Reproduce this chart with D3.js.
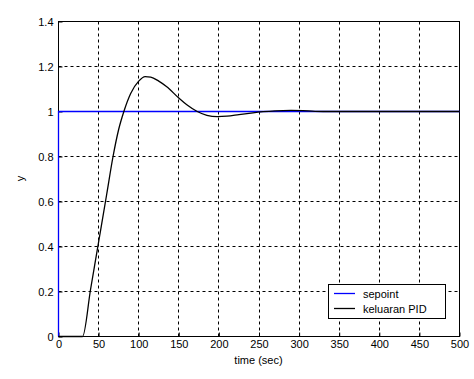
<!DOCTYPE html>
<html>
<head>
<meta charset="utf-8">
<script src="https://cdn.jsdelivr.net/npm/d3@7"></script>
<style>
	body { margin: 0; background: #fff; }
	text { font-family: "Liberation Sans", Arial, sans-serif; }
</style>
</head>
<body>
<div id="chartDiv"></div>
<script>
;(function() {

	// setpoint (step at t=0)
	var setpointTime = [0, 0, 500];
	var setpointValue = [0, 1, 1];

	// PID output
	var pidTime = [0, 30, 40, 50, 60, 68, 75, 81.5, 90, 100, 108, 115, 125, 135, 150, 160, 173, 185, 198, 210, 225, 240, 255, 270, 290, 305, 320, 340, 500];
	var pidValue = [0, 0, 0.21, 0.42, 0.63, 0.8, 0.92, 1.0, 1.08, 1.135, 1.155, 1.153, 1.135, 1.11, 1.06, 1.03, 1.0, 0.983, 0.977, 0.979, 0.986, 0.993, 0.999, 1.003, 1.005, 1.004, 1.001, 1.0, 1.0];

	var xTicks = [0, 50, 100, 150, 200, 250, 300, 350, 400, 450, 500];
	var yTicks = [0, 0.2, 0.4, 0.6, 0.8, 1, 1.2, 1.4];
	var legendLabels = ["sepoint", "keluaran PID"];

	var width = 474, height = 379;
	var margin = { top: 21, right: 15, bottom: 43, left: 58 };
	var chartWidth = width - margin.left - margin.right;
	var chartHeight = height - margin.top - margin.bottom;

	var svg = d3.select("#chartDiv").append("svg")
		.attr("width", width)
		.attr("height", height);

	var plot = svg.append("g")
		.attr("transform", "translate(" + (margin.left + 0.5) + "," + (margin.top + 0.5) + ")");

	var x = d3.scaleLinear().domain([0, 500]).range([0, chartWidth]);
	var y = d3.scaleLinear().domain([0, 1.4]).range([chartHeight, 0]);

	// dashed grid (the y=1 line is hidden under the setpoint)
	plot.append("g").selectAll("line")
		.data(xTicks.slice(1, -1))
		.enter().append("line")
			.attr("x1", d => Math.round(x(d))).attr("x2", d => Math.round(x(d)))
			.attr("y1", 0).attr("y2", chartHeight)
			.attr("stroke", "#000").attr("stroke-dasharray", "3,3");
	plot.append("g").selectAll("line")
		.data(yTicks.slice(1, -1).filter(d => d !== 1))
		.enter().append("line")
			.attr("y1", d => Math.round(y(d))).attr("y2", d => Math.round(y(d)))
			.attr("x1", 0).attr("x2", chartWidth)
			.attr("stroke", "#000").attr("stroke-dasharray", "3,3");

	// axes, ticks inward
	var xAxis = d3.axisBottom(x).tickValues(xTicks).tickSizeInner(-4).tickSizeOuter(0).tickPadding(4);
	var yAxis = d3.axisLeft(y).tickValues(yTicks).tickSizeInner(-4).tickSizeOuter(0).tickPadding(5)
		.tickFormat(d3.format("~g"));

	var gx = plot.append("g")
		.attr("transform", "translate(0," + chartHeight + ")")
		.call(xAxis);
	var gy = plot.append("g").call(yAxis);
	[gx, gy].forEach(function(g) {
		g.selectAll("text").style("font-size", "11px").attr("fill", "#000");
		g.select(".domain").remove();
	});

	// box
	plot.append("rect")
		.attr("x", 0).attr("y", 0)
		.attr("width", chartWidth).attr("height", chartHeight)
		.attr("fill", "none").attr("stroke", "#000");

	var setpointLine = d3.line()
		.x(d => x(d[0]))
		.y(d => y(d[1]));

	var pidLine = d3.line()
		.x(d => x(d[0]))
		.y(d => y(d[1]))
		.curve(d3.curveMonotoneX);

	plot.append("path")
		.datum(d3.zip(setpointTime, setpointValue))
		.attr("d", setpointLine)
		.attr("fill", "none")
		.attr("stroke", "#0000ff")
		.attr("stroke-width", 1.3);

	plot.append("path")
		.datum(d3.zip(pidTime, pidValue))
		.attr("d", pidLine)
		.attr("fill", "none")
		.attr("stroke", "#000")
		.attr("stroke-width", 1.3);

	// axis titles
	svg.append("text")
		.attr("x", margin.left + chartWidth / 2)
		.attr("y", height - 15)
		.attr("text-anchor", "middle")
		.style("font-size", "11px")
		.text("time (sec)");

	svg.append("text")
		.attr("transform", "translate(24," + (margin.top + chartHeight / 2) + ") rotate(-90)")
		.attr("text-anchor", "middle")
		.style("font-size", "11px")
		.text("y");

	// legend
	var legend = svg.append("g").attr("transform", "translate(328,284)");
	legend.append("rect")
		.attr("x", 0.5).attr("y", 0.5)
		.attr("width", 117).attr("height", 34)
		.attr("fill", "#fff").attr("stroke", "#000");
	var colors = ["#0000ff", "#000"];
	legendLabels.forEach(function(label, i) {
		var ly = 9.5 + i * 15;
		legend.append("line")
			.attr("x1", 6).attr("x2", 27)
			.attr("y1", ly).attr("y2", ly)
			.attr("stroke", colors[i])
			.attr("stroke-width", 1.3);
		legend.append("text")
			.attr("x", 35).attr("y", ly + 4)
			.style("font-size", "11px")
			.text(label);
	});
})();
</script>
</body>
</html>
